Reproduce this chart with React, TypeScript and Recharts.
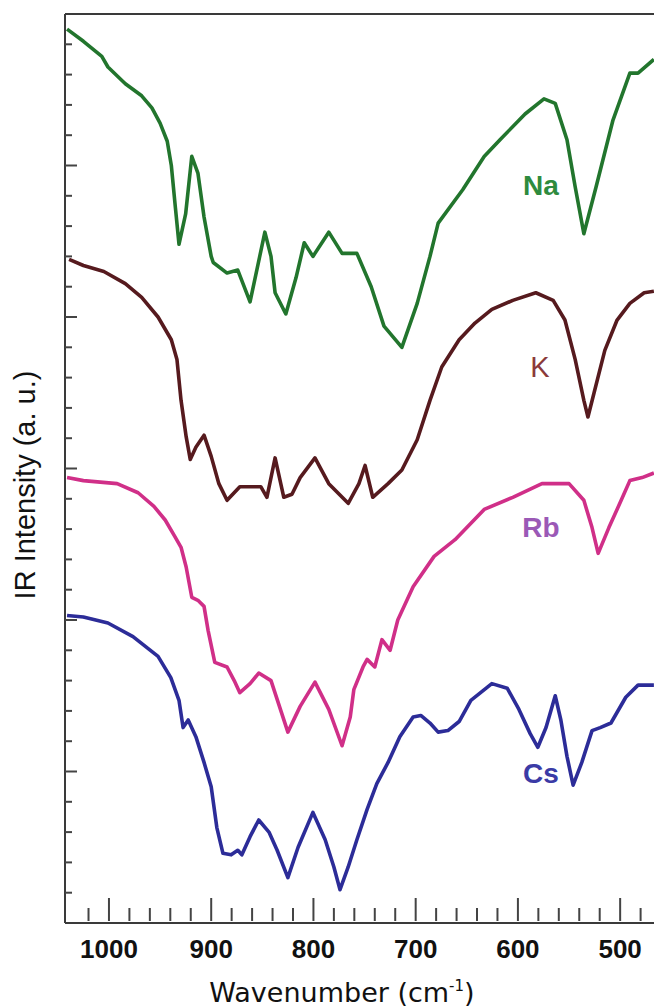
import { LineChart, Line, XAxis, YAxis } from "recharts";

// ── data: [wavenumber (cm-1), intensity (a.u., stacked offset)] ──

const NA_POINTS = [
  [1041, 29.5], [1025, 29.1], [1007, 28.6], [1001, 28.25], [984, 27.7], [968, 27.3],
  [958, 26.9], [950, 26.4], [943, 25.8], [939, 25.0], [935, 23.6], [931.5, 22.4],
  [925, 23.4], [919, 25.3], [913, 24.75], [907, 23.3], [900, 22.0], [898, 21.8],
  [884.5, 21.45], [874, 21.55], [862, 20.5], [847.5, 22.8], [841.5, 22.0], [837.5, 20.8],
  [827, 20.1], [817, 21.3], [809, 22.45], [800.5, 22.0], [785, 22.8], [772, 22.1],
  [757.5, 22.1], [743.5, 21.0], [731, 19.7], [713.5, 19.0], [698.5, 20.45], [686, 22.0],
  [678, 23.1], [654, 24.2], [633, 25.3], [617.5, 25.85], [593, 26.7], [574.5, 27.2],
  [563.5, 27.05], [552, 25.85], [544, 24.3], [535.5, 22.75], [523.5, 24.3], [507, 26.5],
  [490.5, 28.05], [482.5, 28.05], [467, 28.5],
];

const K_POINTS = [
  [1039, 21.9], [1025, 21.7], [1005, 21.5], [984, 21.1], [968, 20.65], [952, 20.0],
  [939, 19.25], [933.5, 18.6], [929.5, 17.25], [924.5, 16.05], [920.5, 15.3], [915, 15.7],
  [907, 16.1], [900, 15.4], [892.5, 14.5], [884.5, 13.95], [872, 14.4], [851.5, 14.4],
  [845.5, 14.05], [837.5, 15.35], [829, 14.05], [821, 14.15], [813, 14.7], [798.5, 15.35],
  [785, 14.5], [766, 13.85], [755.5, 14.5], [749.5, 15.1], [742, 14.05], [727, 14.5],
  [713.5, 14.95], [698.5, 15.95], [686, 17.25], [674.5, 18.35], [657.5, 19.25], [642, 19.8],
  [625.5, 20.25], [605, 20.55], [582.5, 20.8], [565.5, 20.55], [554, 19.9], [544, 18.6],
  [535.5, 17.25], [531.5, 16.7], [525.5, 17.5], [515, 18.9], [503, 19.9], [490.5, 20.45],
  [476.5, 20.8], [467, 20.85],
];

const RB_POINTS = [
  [1041, 14.7], [1025, 14.6], [992, 14.5], [971.5, 14.2], [956, 13.75], [945, 13.3],
  [935.5, 12.75], [929.5, 12.4], [924.5, 11.75], [919, 10.75], [913, 10.65], [907, 10.45],
  [903, 9.65], [896.5, 8.6], [884.5, 8.45], [877.5, 8.0], [872, 7.6], [862, 7.9],
  [853.5, 8.25], [841.5, 8.0], [825, 6.3], [813, 7.15], [798.5, 7.95], [785, 7.05],
  [772, 5.85], [764, 6.8], [760.5, 7.7], [751.5, 8.45], [747.5, 8.7], [740, 8.45],
  [733, 9.35], [725, 9.0], [717.5, 10.0], [702.5, 11.1], [682, 12.1], [661.5, 12.65],
  [633, 13.65], [605, 14.05], [576.5, 14.5], [550, 14.5], [535.5, 13.95], [527.5, 13.05],
  [521.5, 12.2], [511, 13.05], [499, 13.95], [490.5, 14.6], [478.5, 14.7], [467, 14.85],
];

const CS_POINTS = [
  [1041, 10.15], [1025, 10.1], [1001, 9.9], [976.5, 9.45], [952, 8.8], [939.5, 8.1],
  [931.5, 7.35], [927.5, 6.45], [922.5, 6.7], [915, 6.15], [907, 5.3], [900, 4.5],
  [894.5, 3.15], [888.5, 2.3], [880.5, 2.25], [874, 2.4], [870, 2.25], [862, 2.85],
  [853.5, 3.4], [843.5, 3.0], [835.5, 2.4], [825, 1.5], [815, 2.5], [800.5, 3.65],
  [788.5, 2.75], [780, 1.85], [774, 1.1], [766, 1.85], [757.5, 2.75], [747.5, 3.75],
  [738, 4.6], [727, 5.3], [715.5, 6.15], [702.5, 6.8], [695, 6.85], [686, 6.6],
  [678, 6.3], [668.5, 6.35], [657.5, 6.65], [646, 7.35], [625.5, 7.9], [610.5, 7.75],
  [599, 7.05], [588, 6.25], [580.5, 5.8], [572.5, 6.45], [563.5, 7.5], [558, 6.7],
  [552, 5.5], [546, 4.55], [537.5, 5.3], [527.5, 6.35], [519.5, 6.45], [509, 6.6],
  [494.5, 7.45], [482.5, 7.85], [467, 7.85],
];

const X_DOMAIN = [462, 1043];
const X_TICKS = [
  1020, 1000, 980, 960, 940, 920, 900, 880, 860, 840, 820, 800, 780, 760,
  740, 720, 700, 680, 660, 640, 620, 600, 580, 560, 540, 520, 500, 480,
];
const Y_DOMAIN = [0, 30];
const Y_TICKS = [
  1, 2, 3, 4, 5, 6, 7, 8, 9, 10, 11, 12, 13, 14, 15, 16, 17, 18, 19, 20,
  21, 22, 23, 24, 25, 26, 27, 28, 29,
];

const SERIES = [
  { name: "Na", points: NA_POINTS, color: "#22752d" },
  { name: "K", points: K_POINTS, color: "#561a1e" },
  { name: "Rb", points: RB_POINTS, color: "#d02f88" },
  { name: "Cs", points: CS_POINTS, color: "#2c2c98" },
];

const toRows = (pts: number[][]) => pts.map(([w, v]) => ({ w, v }));

const TICK_COLOR = "#444";
const AXIS_STYLE = { stroke: "#3a3a3a", strokeWidth: 2 };

// ── ticks pointing into the plot ──

function BottomTick({ x, y, payload }: any) {
  const major = payload.value % 100 === 0;
  return (
    <g>
      <line x1={x} x2={x} y1={y - 2} y2={y - (major ? 25 : 15)} stroke={TICK_COLOR} strokeWidth={2} />
      {major && (
        <text
          x={x}
          y={y + 35}
          textAnchor="middle"
          fontFamily="'Liberation Sans', Arial, sans-serif"
          fontWeight={700}
          fontSize={26}
          fill="#111"
        >
          {payload.value}
        </text>
      )}
    </g>
  );
}

function TopTick({ x, y, payload }: any) {
  const major = payload.value % 100 === 0;
  return <line x1={x} x2={x} y1={y} y2={y + (major ? 19 : 11)} stroke={TICK_COLOR} strokeWidth={2} />;
}

function LeftTick({ x, y, payload }: any) {
  const major = payload.value % 5 === 0;
  return <line x1={x} x2={x + (major ? 12 : 7)} y1={y} y2={y} stroke={TICK_COLOR} strokeWidth={2} />;
}

function RightTick({ x, y, payload }: any) {
  const major = payload.value % 5 === 0;
  return <line x1={x} x2={x - (major ? 12 : 7)} y1={y} y2={y} stroke={TICK_COLOR} strokeWidth={2} />;
}

const LABELS = [
  { text: "Na", x: 541, y: 195, color: "#2e8b3e", weight: 700, size: 28 },
  { text: "K", x: 540, y: 377, color: "#8b3a3a", weight: 400, size: 29 },
  { text: "Rb", x: 541, y: 537, color: "#9b59b6", weight: 700, size: 28 },
  { text: "Cs", x: 541, y: 783, color: "#3b3ba6", weight: 700, size: 28 },
];

export default function App() {
  return (
    <div style={{ position: "absolute", left: 0, top: 0, width: 654, height: 1008, overflow: "hidden", background: "#fff" }}>
      <LineChart width={700} height={1008} margin={{ top: 0, right: 1, bottom: 25, left: 5 }}>
        <XAxis
          xAxisId="b"
          type="number"
          dataKey="w"
          domain={X_DOMAIN}
          reversed
          ticks={X_TICKS}
          interval={0}
          tickSize={0}
          tickMargin={0}
          tickLine={false}
          axisLine={AXIS_STYLE}
          tick={BottomTick}
          height={60}
        />
        <XAxis
          xAxisId="t"
          orientation="top"
          type="number"
          dataKey="w"
          domain={X_DOMAIN}
          reversed
          ticks={X_TICKS}
          interval={0}
          tickSize={0}
          tickMargin={0}
          tickLine={false}
          axisLine={AXIS_STYLE}
          tick={TopTick}
          height={14}
        />
        <YAxis
          yAxisId="l"
          type="number"
          dataKey="v"
          domain={Y_DOMAIN}
          ticks={Y_TICKS}
          interval={0}
          tickSize={0}
          tickMargin={0}
          tickLine={false}
          axisLine={AXIS_STYLE}
          tick={LeftTick}
          width={60}
        />
        <YAxis
          yAxisId="r"
          orientation="right"
          type="number"
          dataKey="v"
          domain={Y_DOMAIN}
          ticks={Y_TICKS}
          interval={0}
          tickSize={0}
          tickMargin={0}
          tickLine={false}
          axisLine={AXIS_STYLE}
          tick={RightTick}
          width={40}
        />
        {SERIES.map((s) => (
          <Line
            key={s.name}
            xAxisId="b"
            yAxisId="l"
            data={toRows(s.points)}
            dataKey="v"
            type="linear"
            stroke={s.color}
            strokeWidth={3.6}
            strokeLinejoin="round"
            dot={false}
            activeDot={false}
            isAnimationActive={false}
          />
        ))}
        {LABELS.map((l) => (
          <text
            key={l.text}
            x={l.x}
            y={l.y}
            textAnchor="middle"
            fontFamily="'Liberation Sans', Arial, sans-serif"
            fontWeight={l.weight}
            fontSize={l.size}
            fill={l.color}
          >
            {l.text}
          </text>
        ))}
        <text
          x={35}
          y={485}
          transform="rotate(-90, 35, 485)"
          textAnchor="middle"
          fontFamily="'Liberation Sans', Arial, sans-serif"
          fontSize={29}
          fill="#111"
        >
          IR Intensity (a. u.)
        </text>
        <text
          x={342}
          y={1002}
          textAnchor="middle"
          fontFamily="'DejaVu Sans', sans-serif"
          fontSize={27}
          fill="#111"
        >
          <tspan>Wavenumber (cm</tspan>
          <tspan dy={-11} fontSize={15}>-1</tspan>
          <tspan dy={11}>)</tspan>
        </text>
      </LineChart>
    </div>
  );
}
